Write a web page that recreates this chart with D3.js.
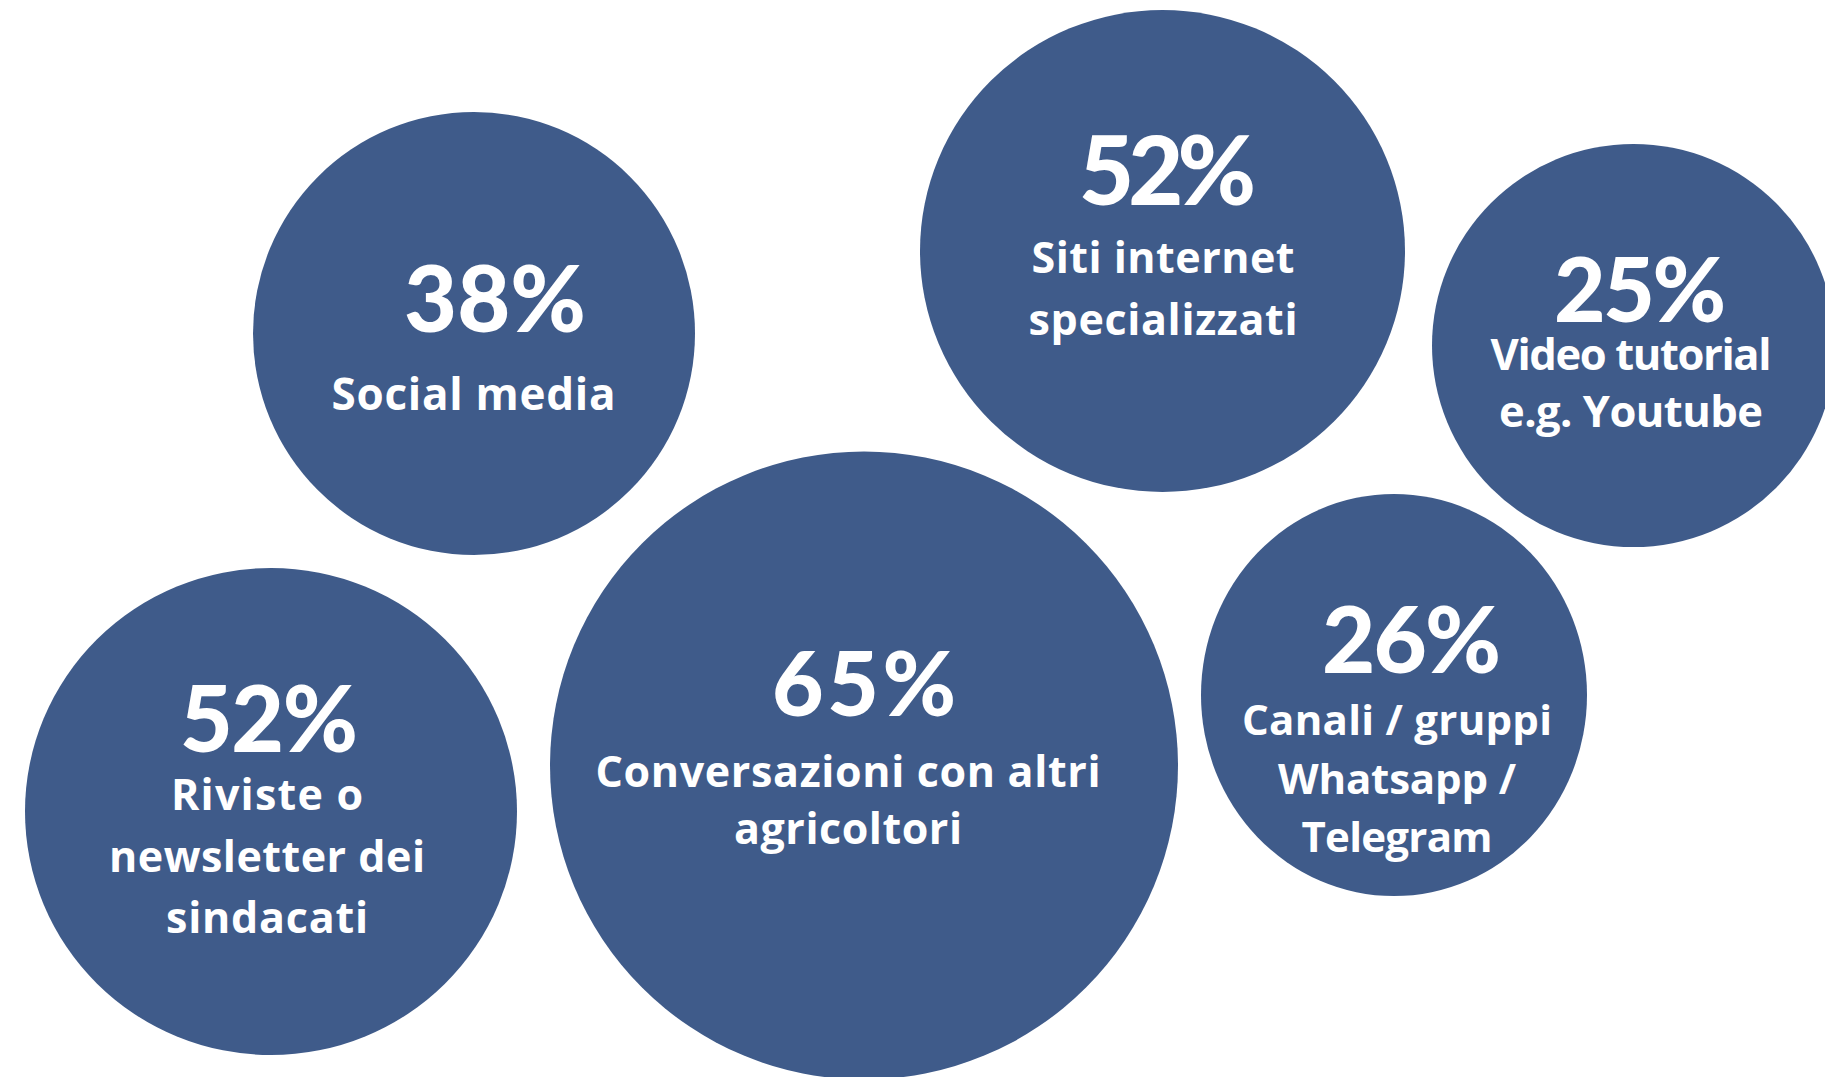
<!DOCTYPE html>
<html>
<head>
<meta charset="utf-8">
<script src="https://cdn.jsdelivr.net/npm/d3@7"></script>
<style>
  html, body { margin: 0; padding: 0; background: #ffffff; overflow: hidden; }
  svg { display: block; }
  text { fill: #ffffff; font-variant-ligatures: none; }
  text.pct { font-family: Lato, Roboto, sans-serif; font-weight: 900; }
  text.line { font-family: "Open Sans", Roboto, sans-serif; font-weight: 700; }
</style>
</head>
<body>
<div id="chart"></div>
<script>
// ---- data ----
const categories = [
  "Social media",
  "Siti internet specializzati",
  "Video tutorial e.g. Youtube",
  "Riviste o newsletter dei sindacati",
  "Conversazioni con altri agricoltori",
  "Canali / gruppi Whatsapp / Telegram"
];
const values = [38, 52, 25, 52, 65, 26];
const labelLines = [
  ["Social media"],
  ["Siti internet", "specializzati"],
  ["Video tutorial", "e.g. Youtube"],
  ["Riviste o", "newsletter dei", "sindacati"],
  ["Conversazioni con altri", "agricoltori"],
  ["Canali / gruppi", "Whatsapp /", "Telegram"]
];

// ---- layout (page units, mapped through scales) ----
const bubbleCx = [474, 1162.5, 1633.5, 271, 864, 1394];
const bubbleCy = [333.5, 251, 345.5, 811.5, 765.5, 695];
const bubbleRx = [221, 242.5, 201.5, 246, 314, 193];
const bubbleRy = [221.5, 241, 201.5, 243.5, 314, 201];
const pctX = [495, 1167.5, 1640, 269, 864, 1411.5];
const pctBaseline = [332, 205, 322, 752, 716, 673];
const pctSize = [91.5, 95, 89, 91, 89, 92];
const pctWidth = [182, 177, 172, 178, 184, 179];
const lineX = [473.5, 1163, 1631, 267, 848, 1397];
const lineBaseline = [409.5, 273, 370, 810, 787, 735];
const lineStep = [62, 62, 57, 61.5, 57, 58.5];
const lineSize = [44, 43, 43.5, 43, 43, 42];
const lineWidths = [
  [284],
  [263, 269],
  [281, 264],
  [192, 316, 202],
  [505, 228],
  [310, 238, 191]
];

const W = 1825, H = 1077;
const x = d3.scaleLinear().domain([0, 1825]).range([0, W]);
const y = d3.scaleLinear().domain([0, 1077]).range([0, H]);
const fill = "#3f5b8a";

const svg = d3.select("#chart").append("svg")
  .attr("width", W).attr("height", H);

const rows = categories.map((c, i) => ({
  category: c, value: values[i], lines: labelLines[i], i
}));

const g = svg.selectAll("g.bubble").data(rows).join("g").attr("class", "bubble");

g.append("ellipse")
  .attr("cx", d => x(bubbleCx[d.i]))
  .attr("cy", d => y(bubbleCy[d.i]))
  .attr("rx", d => x(bubbleRx[d.i]) - x(0))
  .attr("ry", d => y(bubbleRy[d.i]) - y(0))
  .attr("fill", fill);

g.append("text")
  .attr("class", "pct")
  .attr("x", d => x(pctX[d.i]))
  .attr("y", d => y(pctBaseline[d.i]))
  .attr("text-anchor", "middle")
  .attr("textLength", d => pctWidth[d.i])
  .attr("lengthAdjust", "spacing")
  .style("font-size", d => pctSize[d.i] + "px")
  .text(d => d.value + "%");

g.each(function(d) {
  d3.select(this).selectAll("text.line").data(d.lines).join("text")
    .attr("class", "line")
    .attr("x", x(lineX[d.i]))
    .attr("y", (l, k) => y(lineBaseline[d.i] + k * lineStep[d.i]))
    .attr("text-anchor", "middle")
    .attr("textLength", (l, k) => lineWidths[d.i][k])
    .attr("lengthAdjust", "spacing")
    .style("font-size", lineSize[d.i] + "px")
    .text(l => l);
});
</script>
</body>
</html>
